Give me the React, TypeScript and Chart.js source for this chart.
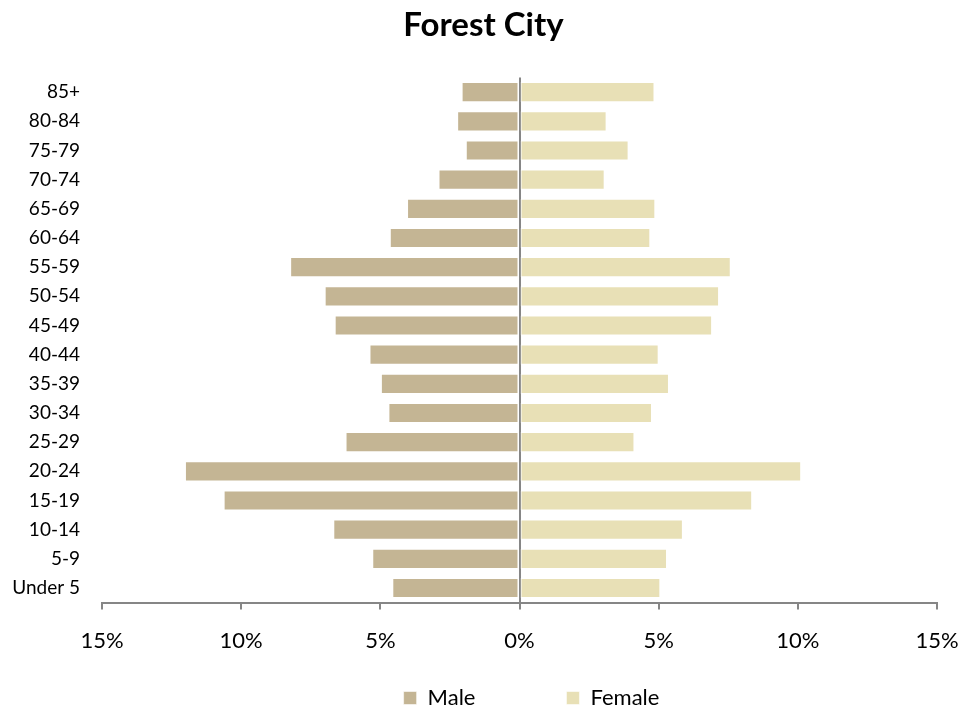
import React, { useEffect, useRef } from "react";
import { Chart, registerables } from "chart.js";

Chart.register(...registerables);

const ageGroups = [
  "Under 5", "5-9", "10-14", "15-19", "20-24", "25-29", "30-34", "35-39", "40-44",
  "45-49", "50-54", "55-59", "60-64", "65-69", "70-74", "75-79", "80-84", "85+",
];
const maleShare = [
  4.57, 5.29, 6.69, 10.63, 12.02, 6.25, 4.71, 4.98, 5.39,
  6.64, 7.0, 8.24, 4.66, 4.04, 2.91, 1.93, 2.24, 2.08,
];
const femaleShare = [
  5.06, 5.3, 5.87, 8.36, 10.12, 4.13, 4.76, 5.37, 5.0,
  6.92, 7.17, 7.59, 4.7, 4.88, 3.06, 3.92, 3.13, 4.85,
];
const axisTicks = [-15, -10, -5, 0, 5, 10, 15];
const titleText = "Forest City";
const seriesNames = ["Male", "Female"];

const FONT = "Lato, 'Open Sans', 'Liberation Sans', sans-serif";

const blockNudge = {
  id: "blockNudge",
  afterLayout(chart: any) {
    const l = chart.legend;
    if (l) {
      l.left += 12;
      l.right += 12;
      l.top = chart.height - 117;
      l.bottom = chart.height;
    }
    const t = chart.titleBlock;
    if (t) {
      t.left += 11;
      t.right += 11;
    }
  },
};

export default function App() {
  const ref = useRef<HTMLCanvasElement | null>(null);
  useEffect(() => {
    if (!ref.current) return;
    const chart = new Chart(ref.current, {
      type: "bar",
      data: {
        labels: ageGroups,
        datasets: [
          {
            label: seriesNames[0],
            data: maleShare.map((v) => -v),
            backgroundColor: "#C4B594",
            borderColor: "rgba(255,255,255,0.55)",
            borderWidth: 1,
            borderSkipped: false,
            barPercentage: 0.69,
            categoryPercentage: 1,
          },
          {
            label: seriesNames[1],
            data: femaleShare,
            backgroundColor: "#E8E0B6",
            borderColor: "rgba(255,255,255,0.55)",
            borderWidth: 1,
            borderSkipped: false,
            barPercentage: 0.69,
            categoryPercentage: 1,
          },
        ],
      },
      options: {
        indexAxis: "y",
        responsive: false,
        animation: false,
        devicePixelRatio: 1,
        layout: { padding: { left: 8, right: 42, top: 0, bottom: 0 } },
        scales: {
          x: {
            stacked: true,
            min: -15,
            max: 15,
            afterBuildTicks: (scale: any) => {
              scale.ticks = axisTicks.map((v) => ({ value: v }));
            },
            grid: {
              color: (ctx: any) => (ctx.tick && ctx.tick.value === 0 ? "#868686" : "rgba(0,0,0,0)"),
              lineWidth: 2,
              tickColor: "#868686",
              tickLength: 7,
              drawTicks: true,
            },
            border: { display: true, color: "#868686", width: 2 },
            ticks: {
              padding: 18,
              color: "#000",
              font: { family: FONT, size: 22 },
              callback: (v: any) => Math.abs(Number(v)) + "%",
            },
          },
          y: {
            stacked: true,
            reverse: true,
            afterFit: (scale: any) => {
              scale.width = 94;
            },
            grid: { display: false, drawTicks: false },
            border: { display: false },
            ticks: {
              padding: 22,
              color: "#000",
              font: { family: FONT, size: 19 },
            },
          },
        },
        plugins: {
          title: {
            display: true,
            text: titleText,
            color: "#000",
            font: { family: FONT, size: 33, weight: "bold" },
            padding: { top: 6, bottom: 32 },
          },
          legend: {
            display: true,
            position: "bottom",
            fullSize: false,
            maxHeight: 41,
            labels: {
              boxWidth: 13,
              boxHeight: 13,
              padding: 91,
              color: "#000",
              font: { family: FONT, size: 22 },
            },
          },
          tooltip: { enabled: false },
        },
      },
      plugins: [blockNudge],
    });
    return () => chart.destroy();
  }, []);
  return (
    <div style={{ position: "absolute", left: 0, top: 0, width: 979, height: 713, background: "#fff" }}>
      <canvas ref={ref} width={979} height={713} style={{ display: "block" }} />
    </div>
  );
}
